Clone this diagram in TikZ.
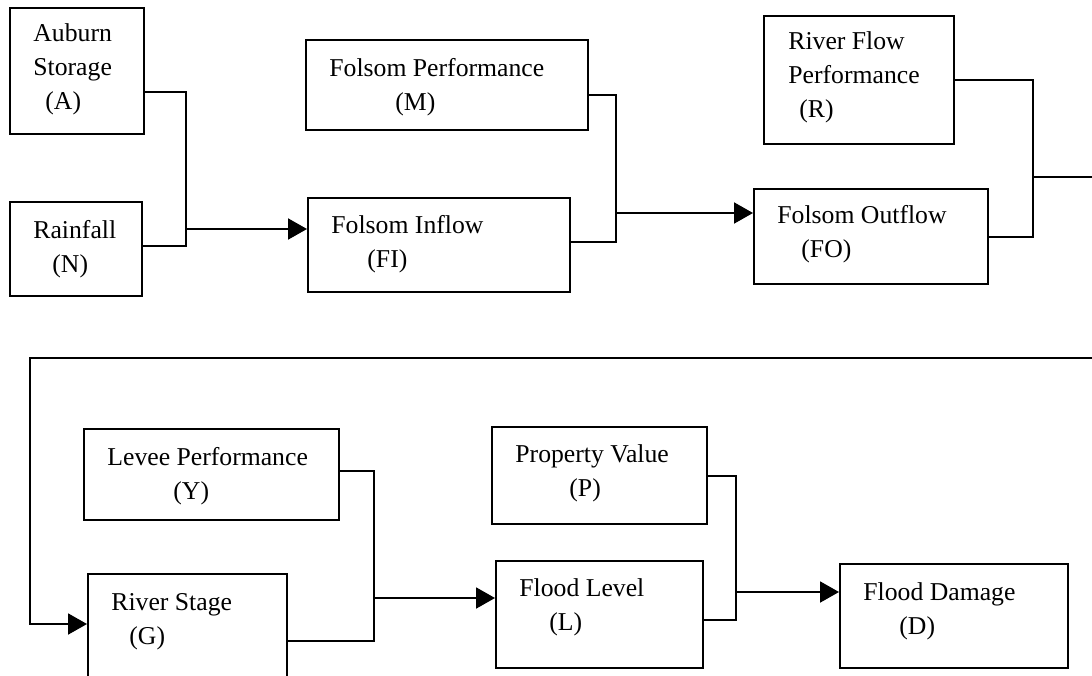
\documentclass[tikz,border=0pt]{standalone}
\usepackage{fontspec}
\setmainfont{Liberation Serif}
\usetikzlibrary{arrows.meta,fit}
\tikzset{
  box/.style={draw, line width=1pt, inner sep=0pt},
  lbl/.style={anchor=base west, inner sep=0pt, align=left,
    font=\fontsize{12.85}{16.8}\selectfont},
  wire/.style={line width=1pt},
  flow/.style={wire, -{Triangle[length=9.5pt,width=10.5pt]}}
}
\begin{document}
\begin{tikzpicture}[x=0.5pt,y=-0.5pt]
\useasboundingbox (0,0) rectangle (1092,675);
\clip (0,0) rectangle (1092,675);
% upper row
\node[box, fit={(10,8) (144,134)}] (A) {};
\node[box, fit={(10,202) (142,296)}] (N) {};
\node[box, fit={(306,40) (588,130)}] (M) {};
\node[box, fit={(308,198) (570,292)}] (FI) {};
\node[box, fit={(764,16) (954,144)}] (R) {};
\node[box, fit={(754,189) (988,284)}] (FO) {};
% lower row
\node[box, fit={(84,429) (339,520)}] (Y) {};
\node[box, fit={(88,574) (287,700)}] (G) {};
\node[box, fit={(492,427) (707,524)}] (P) {};
\node[box, fit={(496,561) (703,668)}] (L) {};
\node[box, fit={(840,564) (1068,668)}] (D) {};
% labels (anchored on the last line)
\node[lbl] (Atxt) at (33,109) {Auburn\\Storage\\\hspace*{6pt}(A)};
\node[lbl] (Ntxt) at (33,272) {Rainfall\\\hspace*{9.5pt}(N)};
\node[lbl] (Mtxt) at (329,110) {Folsom Performance\\\hspace*{33pt}(M)};
\node[lbl] (FItxt) at (331,267) {Folsom Inflow\\\hspace*{18pt}(FI)};
\node[lbl] (Rtxt) at (788,117) {River Flow\\Performance\\\hspace*{5.5pt}(R)};
\node[lbl] (FOtxt) at (777,257) {Folsom Outflow\\\hspace*{12pt}(FO)};
\node[lbl] (Ytxt) at (107,499) {Levee Performance\\\hspace*{33pt}(Y)};
\node[lbl] (Gtxt) at (111,644) {River Stage\\\hspace*{9pt}(G)};
\node[lbl] (Ptxt) at (515,496) {Property Value\\\hspace*{27pt}(P)};
\node[lbl] (Ltxt) at (519,630) {Flood Level\\\hspace*{15pt}(L)};
\node[lbl] (Dtxt) at (863,634) {Flood Damage\\\hspace*{18pt}(D)};
% junctions
\coordinate (jAN) at (186,229);
\coordinate (jMF) at (616,213);
\coordinate (jRF) at (1033,177);
\coordinate (jYG) at (374,598);
\coordinate (jPL) at (736,592);
\coordinate (back) at (30,624);
% connectors
\draw[wire] ([yshift=-10.5pt]A.east) -| (jAN) |- ([yshift=1.5pt]N.east);
\draw[flow] (jAN) -- (jAN -| FI.west);
\draw[wire] ([yshift=-5pt]M.east) -| (jMF) |- ([yshift=1.5pt]FI.east);
\draw[flow] (jMF) -- (jMF -| FO.west);
\draw[wire] (R.east) -| (jRF) |- (FO.east);
\draw[flow] (jRF) -- ++(80,0) |- (30,358) -- (back) -- (back -| G.west);
\draw[wire] ([yshift=2pt]Y.east) -| (jYG) |- ([yshift=-2pt]G.east);
\draw[flow] (jYG) -- (jYG -| L.west);
\draw[wire] (P.east) -| (jPL) |- ([yshift=-2.75pt]L.east);
\draw[flow] (jPL) -- (jPL -| D.west);
\end{tikzpicture}
\end{document}
